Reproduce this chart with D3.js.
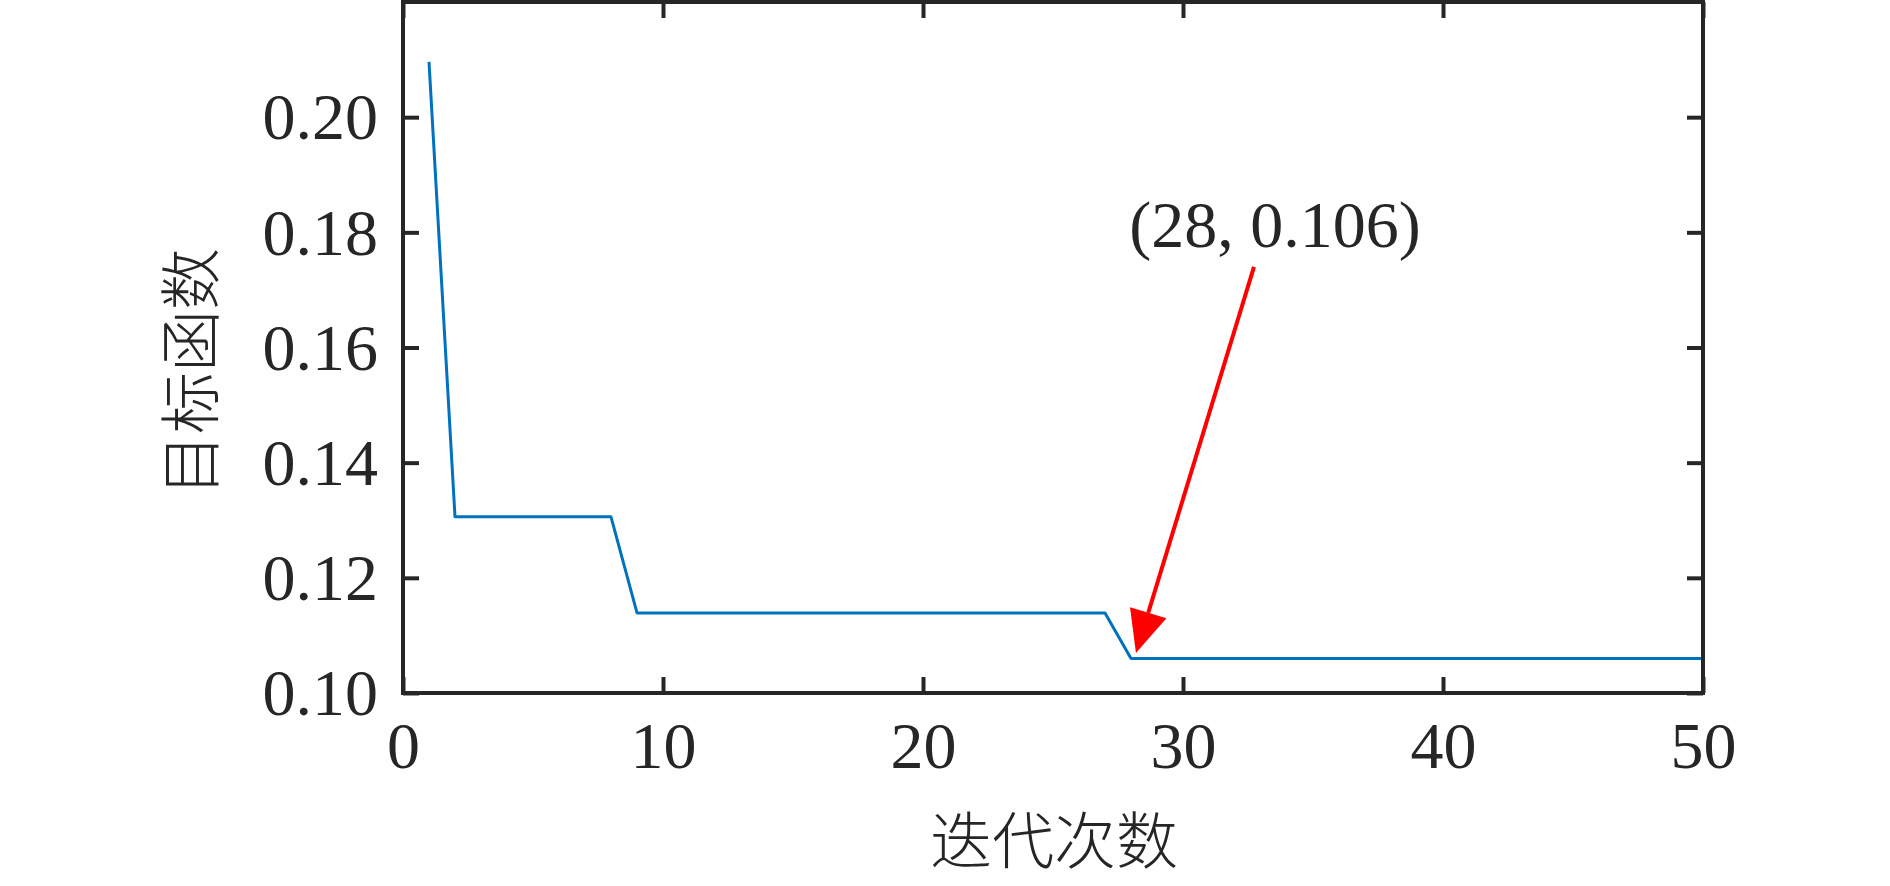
<!DOCTYPE html>
<html><head><meta charset="utf-8">
<script src="https://cdn.jsdelivr.net/npm/d3@7"></script>
<style>
html,body{margin:0;padding:0;background:#fff;}
svg{display:block;}
text{font-family:"Liberation Serif","Times New Roman","Noto Sans CJK SC",serif;fill:#262626;}
</style></head>
<body>
<svg id="chart" width="1890" height="886"></svg>
<script>
const iterations = [1,2,3,4,5,6,7,8,9,10,11,12,13,14,15,16,17,18,19,20,21,22,23,24,25,26,27,28,29,30,31,32,33,34,35,36,37,38,39,40,41,42,43,44,45,46,47,48,49,50];
const objective = [0.2096,0.1306,0.1306,0.1306,0.1306,0.1306,0.1306,0.1306,0.1139,0.1139,
  0.1139,0.1139,0.1139,0.1139,0.1139,0.1139,0.1139,0.1139,0.1139,0.1139,
  0.1139,0.1139,0.1139,0.1139,0.1139,0.1139,0.1139,0.106,0.106,0.106,
  0.106,0.106,0.106,0.106,0.106,0.106,0.106,0.106,0.106,0.106,
  0.106,0.106,0.106,0.106,0.106,0.106,0.106,0.106,0.106,0.106];
const xTicks = [0,10,20,30,40,50];
const yTicks = [0.10,0.12,0.14,0.16,0.18,0.20];
const xLabel = "迭代次数";
const yLabel = "目标函数";
const annotText = "(28, 0.106)";
const arrowFrom = [32.73, 0.174];
const arrowTo = [28.19, 0.10695];
const annotPos = [33.54, 0.1775];

const svg = d3.select("#chart");
const L = 403, R = 1703, T = 2, B = 693;
const x = d3.scaleLinear().domain([0,50]).range([L,R]);
const y = d3.scaleLinear().domain([0.10,0.22]).range([B,T]);
const axisColor = "#262626";
const tickLen = 16;

// line
const line = d3.line().x((d,i)=>x(iterations[i])).y(d=>y(d));
svg.append("path").datum(objective).attr("d",line)
  .attr("fill","none").attr("stroke","rgb(0,114,189)").attr("stroke-width",3)
  .attr("stroke-linejoin","round");

// axes
const fmt = d3.format(".2f");
const gB = svg.append("g").attr("transform",`translate(0,${B})`)
  .call(d3.axisBottom(x).tickValues(xTicks).tickSize(-tickLen).tickPadding(32).tickFormat(d3.format("d")));
const gT = svg.append("g").attr("transform",`translate(0,${T})`)
  .call(d3.axisTop(x).tickValues(xTicks).tickSize(-tickLen).tickFormat(""));
const gL = svg.append("g").attr("transform",`translate(${L},0)`)
  .call(d3.axisLeft(y).tickValues(yTicks).tickSize(-tickLen).tickPadding(25).tickFormat(fmt));
const gR = svg.append("g").attr("transform",`translate(${R},0)`)
  .call(d3.axisRight(y).tickValues(yTicks).tickSize(-tickLen).tickFormat(""));
[gB,gT,gL,gR].forEach(g=>{
  g.select(".domain").remove();
  g.selectAll(".tick line").attr("stroke",axisColor).attr("stroke-width",4);
  g.selectAll("text").style("font-size","66px").attr("fill",axisColor)
    .style("font-family","'Liberation Serif','Times New Roman',serif");
});
gB.selectAll("text").attr("dy","0.71em").attr("y",28);
gL.selectAll("text").attr("dy","0.33em");
svg.append("rect").attr("x",L).attr("y",T).attr("width",R-L).attr("height",B-T)
  .attr("fill","none").attr("stroke",axisColor).attr("stroke-width",4);

// axis labels
svg.append("text").attr("x",1054).attr("y",864).attr("text-anchor","middle")
  .style("font-size","62px")
  .style("font-family","'Noto Sans CJK SC',serif").style("font-weight","300").text(xLabel);
svg.append("text").attr("transform","translate(187,372) rotate(-90)").attr("text-anchor","middle")
  .attr("dominant-baseline","central").style("font-size","62px")
  .style("font-family","'Noto Sans CJK SC',serif").style("font-weight","300").text(yLabel);

// annotation
const x0 = x(arrowFrom[0]), y0 = y(arrowFrom[1]), x1 = x(arrowTo[0]), y1 = y(arrowTo[1]);
const ang = Math.atan2(y1-y0, x1-x0);
const headLen = 42, headHalf = 19;
const bx = x1 - headLen*Math.cos(ang), by = y1 - headLen*Math.sin(ang);
svg.append("line").attr("x1",x0).attr("y1",y0).attr("x2",bx).attr("y2",by)
  .attr("stroke","#ff0000").attr("stroke-width",4);
const px = -Math.sin(ang), py = Math.cos(ang);
svg.append("path").attr("d",`M${x1},${y1}L${bx+px*headHalf},${by+py*headHalf}L${bx-px*headHalf},${by-py*headHalf}Z`)
  .attr("fill","#ff0000");
svg.append("text").attr("x",x(annotPos[0])).attr("y",y(annotPos[1])).attr("text-anchor","middle")
  .style("font-size","66px").text(annotText);
</script>
</body></html>
